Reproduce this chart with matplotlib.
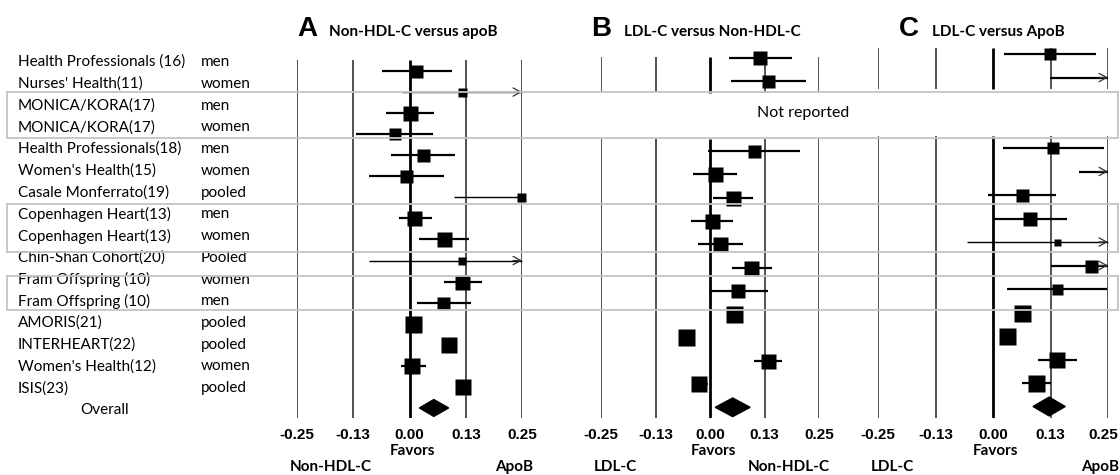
import numpy as np
import matplotlib
matplotlib.use("Agg")
import matplotlib.pyplot as plt
from matplotlib.patches import Rectangle, Polygon

# ---------------------------------------------------------------------------
# Data
# ---------------------------------------------------------------------------

nan, inf = np.nan, np.inf   # nan = not shown, inf = beyond the +0.25 axis limit

STUDIES = ["Health Professionals (16)", "Nurses' Health(11)", "MONICA/KORA(17)",
           "MONICA/KORA(17)", "Health Professionals(18)", "Women's Health(15)",
           "Casale Monferrato(19)", "Copenhagen Heart(13)", "Copenhagen Heart(13)",
           "Chin-Shan Cohort(20)", "Fram Offspring (10)", "Fram Offspring (10)",
           "AMORIS(21)", "INTERHEART(22)", "Women's Health(12)", "ISIS(23)"]
SEX = ["men", "women", "men", "women", "men", "women", "pooled", "men", "women",
       "Pooled", "women", "men", "pooled", "pooled", "women", "pooled"]

# A: Non-HDL-C versus apoB
A_EST = [0.015, 0.117, 0.000, -0.033, 0.031, -0.007, 0.248, 0.011, 0.076, 0.116,
         0.117, 0.074, 0.007, 0.087, 0.006, 0.118]
A_LO  = [-0.062, -0.016, -0.053, -0.118, -0.042, -0.089, 0.098, -0.024, 0.020, -0.089,
         0.076, 0.016, nan, nan, -0.020, nan]
A_HI  = [0.095, inf, 0.055, 0.052, 0.100, 0.076, 0.250, 0.051, 0.133, inf,
         0.160, 0.136, nan, nan, 0.036, 0.137]
A_WT  = [13, 9, 15, 12, 13, 13, 9, 15, 15, 8, 15, 13, 17, 16, 16, 16]
A_ALL = (0.054, 0.022, 0.087)

# B: LDL-C versus Non-HDL-C
B_EST = [0.115, 0.133, nan, nan, 0.101, 0.012, 0.052, 0.004, 0.023, 0.094,
         0.065, 0.055, -0.055, 0.132, -0.025]
B_LO  = [0.043, 0.048, nan, nan, -0.004, -0.038, 0.008, -0.044, -0.027, 0.050,
         0.002, nan, nan, 0.102, nan]
B_HI  = [0.187, 0.221, nan, nan, 0.206, 0.062, 0.098, 0.052, 0.075, 0.142,
         0.133, nan, nan, 0.164, -0.004]
B_WT  = [14, 13, nan, nan, 13, 15, 15, 15, 15, 15, 14, 17, 17, 15, 16]
B_ALL = (0.052, 0.012, 0.092)

# C: LDL-C versus ApoB
C_EST = [0.123, inf, nan, nan, 0.130, inf, 0.064, 0.080, 0.139, 0.212,
         0.140, 0.062, 0.031, 0.139, 0.093]
C_LO  = [0.024, 0.123, nan, nan, 0.022, 0.187, -0.011, 0.000, -0.057, 0.125,
         0.031, nan, nan, 0.098, 0.063]
C_HI  = [0.223, inf, nan, nan, 0.241, inf, 0.138, 0.161, inf, inf,
         0.248, nan, nan, 0.183, 0.125]
C_WT  = [12, nan, nan, nan, 12, nan, 13, 14, 7, 13, 11, 17, 17, 16, 17]
C_ALL = (0.122, 0.087, 0.157)

TICKS = [-0.25, -0.125, 0.0, 0.125, 0.25]
TICK_LABELS = ["-0.25", "-0.13", "0.00", "0.13", "0.25"]
LETTERS = ["A", "B", "C"]
TITLES = ["Non-HDL-C versus apoB", "LDL-C versus Non-HDL-C", "LDL-C versus ApoB"]
LEFT_FAVOR = ["Non-HDL-C", "LDL-C", "LDL-C"]
RIGHT_FAVOR = ["ApoB", "Non-HDL-C", "ApoB"]

# ---------------------------------------------------------------------------
# Layout (pixels of the 1120 x 475 canvas)
# ---------------------------------------------------------------------------

W, H = 1120, 475
SANS = ["Lato", "DejaVu Sans"]
NARROW = ["Liberation Sans Narrow", "Liberation Sans", "DejaVu Sans"]

PANELS = [
    dict(x0=297, x1=522, top=60, bottom=418, row_px=71, step=21.06, ref=0, gap=None,
         letter_x=297, title_x=329),
    dict(x0=601, x1=819, top=57, bottom=418, row_px=151, step=23.3, ref=4, gap=(1.5, 3.5),
         letter_x=591, title_x=624),
    dict(x0=878, x1=1108, top=48, bottom=418, row_px=148, step=23.5, ref=4, gap=(1.5, 3.5),
         letter_x=899, title_x=932),
]
SERIES = [(A_EST, A_LO, A_HI, A_WT, A_ALL),
          (B_EST, B_LO, B_HI, B_WT, B_ALL),
          (C_EST, C_LO, C_HI, C_WT, C_ALL)]


def draw_panel(fig, p, est, lo, hi, wt, overall, i):
    ax = fig.add_axes([p["x0"] / W, 1 - p["bottom"] / H,
                       (p["x1"] - p["x0"]) / W, (p["bottom"] - p["top"]) / H])
    to_row = lambda y: p["ref"] + (y - p["row_px"]) / p["step"]
    r_top, r_bot = to_row(p["top"]), to_row(p["bottom"])
    ax.set_xlim(-0.25, 0.25)
    ax.set_ylim(r_bot, r_top)
    ax.set_axis_off()
    ax.patch.set_visible(False)

    # vertical reference lines
    for t in TICKS:
        lw = 2.0 if t == 0 else 1.1
        col = "black" if t == 0 else "#222222"
        if p["gap"] is None:
            ax.vlines(t, r_top, r_bot, color=col, lw=lw, zorder=1)
        else:
            ax.vlines(t, r_top, p["gap"][0], color=col, lw=lw, zorder=1)
            ax.vlines(t, p["gap"][1], r_bot, color=col, lw=lw, zorder=1)

    # study rows
    for r, (e, l, h, w) in enumerate(zip(est, lo, hi, wt)):
        if np.isnan(e):
            continue
        left = l if np.isfinite(l) else e
        right = h if np.isfinite(h) else (0.25 if np.isinf(h) else e)
        lw = 1.0 if (np.isfinite(w) and w < 11) else 1.6
        if right > left:
            ax.plot([left, min(right, 0.25)], [r, r], color="black", lw=lw,
                    solid_capstyle="butt", clip_on=False, zorder=2)
        if np.isinf(h):
            ax.annotate("", xy=(0.25, r), xytext=(0.23, r), annotation_clip=False,
                        arrowprops=dict(arrowstyle="->,head_length=0.55,head_width=0.3",
                                        color="#333333", lw=0.9, shrinkA=0, shrinkB=0))
        if np.isfinite(e):
            ax.plot(e, r, marker="s", ms=w * 0.72, color="black", mec="none",
                    clip_on=False, zorder=3)

    # pooled estimate diamond
    e, l, h = overall
    r = len(est)
    ax.add_patch(Polygon([(l, r), (e, r - 0.4), (h, r), (e, r + 0.4)],
                         closed=True, color="black", zorder=3, clip_on=False))

    # axis texts
    for k, (t, lab) in enumerate(zip(TICKS, TICK_LABELS)):
        # keep the last label of the right-most panel inside the canvas
        dx = -5 if (i == len(PANELS) - 1 and k == len(TICKS) - 1) else 0
        ax.annotate(lab, xy=(t, 0), xycoords=("data", "axes fraction"),
                    xytext=(dx * 0.72, -17 * 0.72), textcoords="offset points",
                    ha="center", va="center", fontsize=11, fontweight="bold",
                    family=NARROW)
    ax.annotate("Favors", xy=(0, 0), xycoords=("data", "axes fraction"),
                xytext=(3 * 0.72, -33 * 0.72), textcoords="offset points",
                ha="center", va="center", fontsize=11, fontweight="bold", family=SANS)
    ax.annotate(LEFT_FAVOR[i], xy=(-0.25, 0), xycoords=("data", "axes fraction"),
                xytext=(-7 * 0.72, -49 * 0.72), textcoords="offset points",
                ha="left", va="center", fontsize=11, fontweight="bold", family=SANS)
    ax.annotate(RIGHT_FAVOR[i], xy=(0.25, 0), xycoords=("data", "axes fraction"),
                xytext=(11 * 0.72, -49 * 0.72), textcoords="offset points",
                ha="right", va="center", fontsize=11, fontweight="bold", family=SANS)

    fig.text(p["letter_x"] / W, 1 - 36 / H, LETTERS[i], fontsize=20, fontweight="bold",
             family=["Liberation Sans", "DejaVu Sans"], va="baseline", ha="left")
    fig.text(p["title_x"] / W, 1 - 36 / H, TITLES[i], fontsize=11, fontweight="bold",
             family=SANS, va="baseline", ha="left")
    return ax


fig = plt.figure(figsize=(W / 100, H / 100), dpi=100)
fig.patch.set_facecolor("white")

for i, (p, s) in enumerate(zip(PANELS, SERIES)):
    draw_panel(fig, p, *s, i)

# overlay: study labels, group boxes, "Not reported"
ov = fig.add_axes([0, 0, 1, 1])
ov.set_xlim(0, W)
ov.set_ylim(H, 0)
ov.set_axis_off()
ov.patch.set_visible(False)

LABEL_ROW0, LABEL_STEP = 62, 21.75
for r, (name, sex) in enumerate(zip(STUDIES, SEX)):
    y = LABEL_ROW0 + r * LABEL_STEP
    ov.text(18, y, name, ha="left", va="center", fontsize=11, family=SANS)
    ov.text(201, y, sex, ha="left", va="center", fontsize=11, family=SANS)
ov.text(105, LABEL_ROW0 + len(STUDIES) * LABEL_STEP, "Overall", ha="center",
        va="center", fontsize=11, family=SANS)

for y0, y1 in [(92, 138), (204, 252), (276, 310)]:
    ov.add_patch(Rectangle((7, y0), 1111, y1 - y0, fill=False, edgecolor="#c4c4c4",
                           lw=1.3, zorder=10))
ov.text(803, 113, "Not reported", ha="center", va="center", fontsize=11.5, family=SANS)

fig.savefig("out.png", dpi=100)
